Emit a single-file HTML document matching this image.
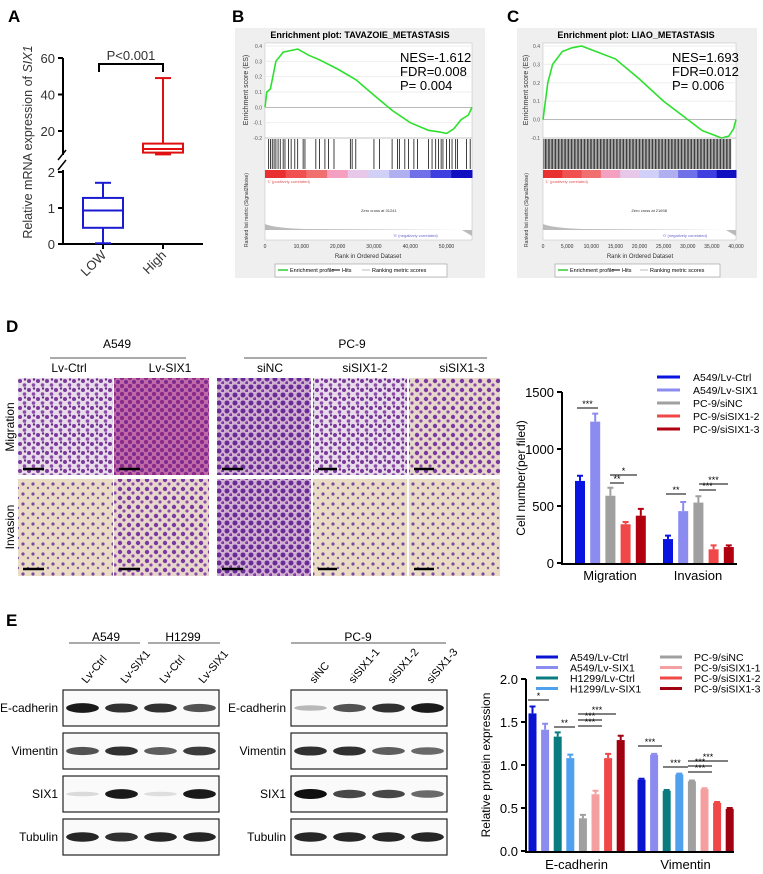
<!DOCTYPE html>
<html><head><meta charset="utf-8"><style>
body{margin:0;background:#fff;}
svg{display:block;font-family:"Liberation Sans",Arial,sans-serif;}
</style></head><body>
<svg id="fig" width="763" height="874" viewBox="0 0 763 874" xmlns="http://www.w3.org/2000/svg">
<defs>
<pattern id="cellsA" width="9" height="9" patternUnits="userSpaceOnUse"><rect width="9" height="9" fill="#e8dcea"/><circle cx="2" cy="3" r="2" fill="#7a3a9a"/><circle cx="6.5" cy="7" r="1.8" fill="#8a4aa8"/><circle cx="7" cy="1.5" r="1.2" fill="#6a2a88"/></pattern>
<pattern id="cellsB" width="8" height="8" patternUnits="userSpaceOnUse"><rect width="8" height="8" fill="#c06aa8"/><circle cx="2" cy="2" r="2.2" fill="#8a2a8a"/><circle cx="6" cy="6" r="2" fill="#7a2a90"/></pattern>
<pattern id="cellsC" width="9" height="9" patternUnits="userSpaceOnUse"><rect width="9" height="9" fill="#e8d8cc"/><circle cx="3" cy="3" r="2.2" fill="#7a3aa0"/><circle cx="7" cy="7" r="1.6" fill="#8a4aa8"/></pattern>
<pattern id="cellsD" width="10" height="10" patternUnits="userSpaceOnUse"><rect width="10" height="10" fill="#eadcc4"/><circle cx="3" cy="4" r="1.6" fill="#7a4aa0"/><circle cx="8" cy="8" r="1.2" fill="#8a5aa8"/></pattern>
<pattern id="cellsE" width="8" height="8" patternUnits="userSpaceOnUse"><rect width="8" height="8" fill="#cfb0d0"/><circle cx="3" cy="3" r="2.5" fill="#6a2a98"/><circle cx="7" cy="7" r="1.8" fill="#7a3aa0"/></pattern>
</defs>
<text x="8" y="22" font-size="17" font-weight="bold">A</text>
<text x="232" y="22" font-size="17" font-weight="bold">B</text>
<text x="507" y="22" font-size="17" font-weight="bold">C</text>
<text x="6" y="332" font-size="17" font-weight="bold">D</text>
<text x="6" y="626" font-size="17" font-weight="bold">E</text>

<g id="panelA">
<text transform="translate(32,142) rotate(-90)" font-size="12.5" text-anchor="middle" fill="#333">Relative mRNA expression of <tspan font-style="italic">SIX1</tspan></text>
<path d="M63,58 V155 M63,170 V244 H203" stroke="#000" stroke-width="2" fill="none"/>
<path d="M58,160 L66,150 M58,170 L66,160" stroke="#000" stroke-width="1.5"/>
</g>

<g>
<rect x="235" y="28" width="250" height="250" fill="#efefef"/>
<text x="360" y="38" font-size="9" font-weight="bold" text-anchor="middle">Enrichment plot: TAVAZOIE_METASTASIS</text>
<rect x="265" y="43" width="207" height="197" fill="#fff" stroke="#bbb" stroke-width="0.5"/>
<g id="gB"></g>
<text x="400" y="62" font-size="13">NES=-1.612</text>
<text x="400" y="76" font-size="13">FDR=0.008</text>
<text x="400" y="90" font-size="13">P= 0.004</text>
<text transform="translate(248,90) rotate(-90)" font-size="7" text-anchor="middle" fill="#333">Enrichment score (ES)</text>
<text transform="translate(248,210) rotate(-90)" font-size="5" text-anchor="middle" fill="#333">Ranked list metric (Signal2Noise)</text>
<text x="368" y="258" font-size="6" text-anchor="middle" fill="#333">Rank in Ordered Dataset</text>
<rect x="275" y="264" width="172" height="13" fill="#fff" stroke="#999" stroke-width="0.6"/>
<line x1="278" y1="270" x2="288" y2="270" stroke="#3c3" stroke-width="1.5"/><text x="290" y="272" font-size="5.5">Enrichment profile</text>
<line x1="332" y1="270" x2="340" y2="270" stroke="#000"/><text x="342" y="272" font-size="5.5">Hits</text>
<line x1="362" y1="270" x2="370" y2="270" stroke="#bbb"/><text x="372" y="272" font-size="5.5">Ranking metric scores</text>
</g>
<g>
<rect x="517" y="28" width="240" height="250" fill="#efefef"/>
<text x="636" y="38" font-size="9" font-weight="bold" text-anchor="middle">Enrichment plot: LIAO_METASTASIS</text>
<rect x="543" y="43" width="193" height="197" fill="#fff" stroke="#bbb" stroke-width="0.5"/>
<g id="gC"></g>
<text x="672" y="62" font-size="13">NES=1.693</text>
<text x="672" y="76" font-size="13">FDR=0.012</text>
<text x="672" y="90" font-size="13">P= 0.006</text>
<text transform="translate(528,90) rotate(-90)" font-size="7" text-anchor="middle" fill="#333">Enrichment score (ES)</text>
<text transform="translate(528,210) rotate(-90)" font-size="5" text-anchor="middle" fill="#333">Ranked list metric (Signal2Noise)</text>
<text x="640" y="258" font-size="6" text-anchor="middle" fill="#333">Rank in Ordered Dataset</text>
<rect x="555" y="264" width="165" height="13" fill="#fff" stroke="#999" stroke-width="0.6"/>
<line x1="558" y1="270" x2="568" y2="270" stroke="#3c3" stroke-width="1.5"/><text x="570" y="272" font-size="5.5">Enrichment profile</text>
<line x1="612" y1="270" x2="620" y2="270" stroke="#000"/><text x="622" y="272" font-size="5.5">Hits</text>
<line x1="640" y1="270" x2="648" y2="270" stroke="#bbb"/><text x="650" y="272" font-size="5.5">Ranking metric scores</text>
</g>

<g>
<text x="117" y="348" font-size="12" text-anchor="middle">A549</text>
<line x1="50" y1="358" x2="186" y2="358" stroke="#555"/>
<text x="69" y="372" font-size="12" text-anchor="middle">Lv-Ctrl</text>
<text x="170" y="372" font-size="12" text-anchor="middle">Lv-SIX1</text>
<text x="352" y="348" font-size="12" text-anchor="middle">PC-9</text>
<line x1="244" y1="358" x2="487" y2="358" stroke="#555"/>
<text x="270" y="372" font-size="12" text-anchor="middle">siNC</text>
<text x="365" y="372" font-size="12" text-anchor="middle">siSIX1-2</text>
<text x="462" y="372" font-size="12" text-anchor="middle">siSIX1-3</text>
<text transform="translate(14,427) rotate(-90)" font-size="12" text-anchor="middle">Migration</text>
<text transform="translate(14,527) rotate(-90)" font-size="12" text-anchor="middle">Invasion</text>
<rect x="18" y="378" width="95" height="97" fill="url(#cellsA)"/>
<rect x="114" y="378" width="95" height="97" fill="url(#cellsB)"/>
<rect x="217" y="378" width="94" height="97" fill="url(#cellsE)"/>
<rect x="313" y="378" width="94" height="97" fill="url(#cellsA)"/>
<rect x="409" y="378" width="91" height="97" fill="url(#cellsC)"/>
<rect x="18" y="479" width="95" height="97" fill="url(#cellsD)"/>
<rect x="114" y="479" width="95" height="97" fill="url(#cellsC)"/>
<rect x="217" y="479" width="94" height="97" fill="url(#cellsE)"/>
<rect x="313" y="479" width="94" height="97" fill="url(#cellsD)"/>
<rect x="409" y="479" width="91" height="97" fill="url(#cellsD)"/>
<g stroke="#000" stroke-width="2.5">
<line x1="23" y1="469" x2="44" y2="469"/><line x1="119" y1="469" x2="140" y2="469"/><line x1="222" y1="469" x2="243" y2="469"/><line x1="318" y1="469" x2="337" y2="469"/><line x1="414" y1="469" x2="434" y2="469"/>
<line x1="23" y1="569" x2="44" y2="569"/><line x1="119" y1="569" x2="140" y2="569"/><line x1="222" y1="569" x2="243" y2="569"/><line x1="318" y1="569" x2="337" y2="569"/><line x1="414" y1="569" x2="434" y2="569"/>
</g>
</g>

<g id="chartD">
<text transform="translate(525,478) rotate(-90)" font-size="12" text-anchor="middle">Cell number(per filed)</text>
</g>

<g id="blots">
<text x="106" y="641" font-size="12" text-anchor="middle">A549</text>
<line x1="69" y1="643" x2="140" y2="643" stroke="#555"/>
<text x="183" y="641" font-size="12" text-anchor="middle">H1299</text>
<line x1="148" y1="643" x2="220" y2="643" stroke="#555"/>
<text x="358" y="641" font-size="12" text-anchor="middle">PC-9</text>
<line x1="291" y1="643" x2="446" y2="643" stroke="#555"/>
</g>

<g id="chartE">
<text transform="translate(490,765) rotate(-90)" font-size="12" text-anchor="middle">Relative protein expression</text>
</g>
</svg>
<script>
var NS="http://www.w3.org/2000/svg";
function mk(p,tag,at,txt){var e=document.createElementNS(NS,tag);for(var k in at)e.setAttribute(k,at[k]);if(txt!==undefined)e.textContent=txt;p.appendChild(e);return e;}

var aGroups=["LOW","High"];
var aLowBox=[0.02,0.45,0.93,1.28,1.70];
var aHighBox=[7,8,10,13,49];
var aLowTicks=[0,1,2];
var aHighTicks=[20,40,60];
(function(){
 var g=document.getElementById("panelA");
 function yl(v){return 244-v/2*72;}
 function yh(v){return 131-(v-20)/40*73;}
 aLowTicks.forEach(function(t){mk(g,"line",{x1:58,x2:63,y1:yl(t),y2:yl(t),stroke:"#000","stroke-width":2});mk(g,"text",{x:55,y:yl(t)+5,"font-size":13,"text-anchor":"end",fill:"#333"},t);});
 aHighTicks.forEach(function(t){mk(g,"line",{x1:58,x2:63,y1:yh(t),y2:yh(t),stroke:"#000","stroke-width":2});mk(g,"text",{x:55,y:yh(t)+5,"font-size":13,"text-anchor":"end",fill:"#333"},t);});
 var xs=[103,163];
 xs.forEach(function(x,i){mk(g,"line",{x1:x,x2:x,y1:244,y2:249,stroke:"#000","stroke-width":2});
  var t=mk(g,"text",{transform:"translate("+(x+4)+",256) rotate(-45)","font-size":13,"text-anchor":"end",fill:"#333"},aGroups[i]);
  
  });
 function box(x,b,yf,c,name){var w=20;var gg=mk(g,"g",{stroke:c,"stroke-width":2,fill:"none"});
  
  
  mk(gg,"line",{x1:x,x2:x,y1:yf(b[0]),y2:yf(b[1])});mk(gg,"line",{x1:x,x2:x,y1:yf(b[3]),y2:yf(b[4])});
  mk(gg,"line",{x1:x-8,x2:x+8,y1:yf(b[0]),y2:yf(b[0])});mk(gg,"line",{x1:x-8,x2:x+8,y1:yf(b[4]),y2:yf(b[4])});
  mk(gg,"rect",{x:x-w,y:yf(b[3]),width:2*w,height:yf(b[1])-yf(b[3])});mk(gg,"line",{x1:x-w,x2:x+w,y1:yf(b[2]),y2:yf(b[2])});}
 box(103,aLowBox,yl,"#1a1ad0","box-low");
 box(163,aHighBox,function(v){return v<20?131+(20-v)*1.8:yh(v);},"#e01010","box-high");
 mk(g,"path",{d:"M99,72 V64 H163 V72",stroke:"#000","stroke-width":2,fill:"none"});
 mk(g,"text",{x:131,y:60,"font-size":13,"text-anchor":"middle",fill:"#333"},"P<0.001");
})();

var bRankMax=57000;
var bESx=[0,500,1500,3000,5000,7000,9000,12000,15000,20000,25000,30000,35000,40000,45000,48000,50000,52000,54000,56000,57000];
var bESy=[0,0.1,0.12,0.3,0.36,0.37,0.38,0.34,0.31,0.25,0.18,0.08,-0.02,-0.1,-0.15,-0.16,-0.17,-0.14,-0.08,-0.05,0.0];
var bHits=[1000,1500,2000,2500,3000,3600,4200,5000,5500,6500,7200,8200,9000,10500,11000,14000,15000,16500,17500,19000,23500,24000,25000,30000,31500,35000,36500,37000,38500,39500,41000,42000,45000,46000,47000,47800,48500,49000,50000,50800,51500,52500,53000,55500,56500];
var cRankMax=40000;
var cESx=[0,500,1000,2000,4000,6000,8000,10000,12000,15000,20000,25000,30000,33000,35000,37000,38500,39500,40000];
var cESy=[0,0.1,0.2,0.3,0.37,0.39,0.4,0.38,0.36,0.33,0.22,0.1,0.0,-0.06,-0.08,-0.1,-0.09,-0.05,0.0];
var cHitStep=300;
function gsea(id,x0,x1,maxR,esx,esy,yMin,yMax,ticks,hits,xt,zero){
 var g=document.getElementById(id);
 function X(r){return x0+r/maxR*(x1-x0);}
 function Y(v){return 138-(v-yMin)/(yMax-yMin)*92;}
 ticks.forEach(function(t){mk(g,"line",{x1:x0,x2:x1,y1:Y(t),y2:Y(t),stroke:"#eee"});mk(g,"text",{x:x0-3,y:Y(t)+2,"font-size":5,"text-anchor":"end",fill:"#555"},t.toFixed(1));});
 mk(g,"line",{x1:x0,x2:x1,y1:Y(0),y2:Y(0),stroke:"#999","stroke-width":0.6});
 var d="";esx.forEach(function(r,i){d+=(i?"L":"M")+X(r).toFixed(1)+","+Y(esy[i]).toFixed(1);});
 var p=mk(g,"path",{d:d,stroke:"#2ee02e","stroke-width":1.6,fill:"none"});
 
 
 mk(g,"line",{x1:x0,x2:x1,y1:138,y2:138,stroke:"#999","stroke-width":0.5});
 hits.forEach(function(r){mk(g,"line",{x1:X(r),x2:X(r),y1:139,y2:169,stroke:"#111","stroke-width":0.8});});
 var cols=["#e83030","#f05050","#f07070","#f4a0c0","#e8c8e8","#d0d0f8","#b0b0f0","#7070e8","#4040e0","#1010c0"];
 cols.forEach(function(c,i){mk(g,"rect",{x:x0+i*(x1-x0)/10,y:170,width:(x1-x0)/10+0.5,height:8,fill:c});});
 mk(g,"text",{x:x0+2,y:183,"font-size":4,fill:"#e05050"},"'1' (positively correlated)");
 mk(g,"text",{x:x0+(x1-x0)*0.55,y:212,"font-size":4,fill:"#333","text-anchor":"middle"},"Zero cross at "+zero);
 mk(g,"text",{x:x0+(x1-x0)*0.62,y:237,"font-size":4,fill:"#66c"},"'0' (negatively correlated)");
 mk(g,"path",{d:"M"+x0+",224 Q"+(x0+10)+",228 "+(x0+40)+",229 L"+(x1-10)+",230 L"+x1+",236 L"+x1+",230 L"+x0+",230Z",fill:"#bbb"});
 xt.forEach(function(t){mk(g,"text",{x:X(t),y:248,"font-size":5,"text-anchor":"middle",fill:"#333"},t.toLocaleString("en-US"));});
}
gsea("gB",265,472,bRankMax,bESx,bESy,-0.2,0.4,[-0.2,-0.1,0,0.1,0.2,0.3,0.4],bHits,[0,10000,20000,30000,40000,50000],"31241");
var cHits=[];for(var r=200;r<39000;r+=cHitStep)cHits.push(r);
gsea("gC",543,736,cRankMax,cESx,cESy,-0.1,0.4,[-0.1,0,0.1,0.2,0.3,0.4],cHits,[0,5000,10000,15000,20000,25000,30000,35000,40000],"21698");

var dCategories=["Migration","Invasion"];
var dSeries=["A549/Lv-Ctrl","A549/Lv-SIX1","PC-9/siNC","PC-9/siSIX1-2","PC-9/siSIX1-3"];
var dColors=["#0a14e0","#8c8cf0","#a0a0a0","#f04848","#b00010"];
var dMigration=[720,1240,590,340,415];
var dMigrationErr=[45,70,70,20,60];
var dInvasion=[210,455,530,120,140];
var dInvasionErr=[30,80,55,35,15];
var dTicks=[0,500,1000,1500];
(function(){
 var g=document.getElementById("chartD");
 function Y(v){return 563-v/1500*171;}
 mk(g,"path",{d:"M562,392 V564 H737",stroke:"#000","stroke-width":2,fill:"none"});
 dTicks.forEach(function(t){mk(g,"line",{x1:557,x2:562,y1:Y(t),y2:Y(t),stroke:"#000","stroke-width":2});mk(g,"text",{x:554,y:Y(t)+5,"font-size":13,"text-anchor":"end"},t);});
 var data=[dMigration,dInvasion],errs=[dMigrationErr,dInvasionErr],starts=[580,668];
 data.forEach(function(arr,gi){arr.forEach(function(v,i){var cx=starts[gi]+i*15.2;
  var b=mk(g,"rect",{x:cx-5,y:Y(v),width:10,height:563-Y(v),fill:dColors[i]});
  
  
  var e=errs[gi][i];mk(g,"path",{d:"M"+cx+","+Y(v)+" V"+Y(v+e)+" M"+(cx-3)+","+Y(v+e)+" H"+(cx+3),stroke:dColors[i],"stroke-width":2});});
  mk(g,"text",{x:starts[gi]+30,y:580,"font-size":13,"text-anchor":"middle"},dCategories[gi]);});
 function sig(x1,x2,y,s){mk(g,"line",{x1:x1,x2:x2,y1:y,y2:y,stroke:"#000"});mk(g,"text",{x:(x1+x2)/2,y:y-1,"font-size":9,"text-anchor":"middle"},s);}
 sig(577,598,408,"***");sig(610,637,475,"*");sig(610,624,483,"**");sig(666,686,494,"**");sig(699,728,484,"***");sig(699,716,490,"***");
 dSeries.forEach(function(s,i){var y=377+i*13;mk(g,"line",{x1:657,x2:680,y1:y,y2:y,stroke:dColors[i],"stroke-width":3});
  var t=mk(g,"text",{x:693,y:y+4,"font-size":10.5},s);
  
  });
})();

var blotRows=["E-cadherin","Vimentin","SIX1","Tubulin"];
var leftLanes=["Lv-Ctrl","Lv-SIX1","Lv-Ctrl","Lv-SIX1"];
var rightLanes=["siNC","siSIX1-1","siSIX1-2","siSIX1-3"];
var leftIntensity=[[0.95,0.85,0.85,0.7],[0.7,0.85,0.65,0.8],[0.1,0.95,0.08,0.95],[0.9,0.85,0.9,0.9]];
var rightIntensity=[[0.25,0.7,0.85,0.95],[0.85,0.85,0.65,0.6],[1,0.75,0.75,0.6],[0.9,0.9,0.9,0.9]];
(function(){
 var g=document.getElementById("blots");var rowsY=[690,733,776,819];
 function blot(x0,x1,lanes,ints,side){
  var lw=(x1-x0)/4;
  lanes.forEach(function(l,i){var cx=x0+lw*(i+0.5);mk(g,"text",{transform:"translate("+(cx+4)+",684) rotate(-50)","font-size":11},l);});
  rowsY.forEach(function(y,r){var rr=mk(g,"rect",{x:x0,y:y,width:x1-x0,height:36,fill:"#fafafa",stroke:"#222","stroke-width":1.2});
   
   
   mk(g,"text",{x:x0-5,y:y+22,"font-size":12,"text-anchor":"end"},blotRows[r]);
   ints[r].forEach(function(v,i){var cx=x0+lw*(i+0.5);var gray=Math.round(240-v*225);
    mk(g,"ellipse",{cx:cx,cy:y+18,rx:lw*0.42,ry:2+v*3,fill:"rgb("+gray+","+gray+","+gray+")"});});});
 }
 blot(63,219,leftLanes,leftIntensity,"left");
 blot(291,447,rightLanes,rightIntensity,"right");
})();

var eCategories=["E-cadherin","Vimentin"];
var eSeries=["A549/Lv-Ctrl","A549/Lv-SIX1","H1299/Lv-Ctrl","H1299/Lv-SIX1","PC-9/siNC","PC-9/siSIX1-1","PC-9/siSIX1-2","PC-9/siSIX1-3"];
var eColors=["#0a14d0","#8c8cf0","#0a7c80","#50a0f0","#a0a0a0","#f4a0a0","#f04848","#a00010"];
var eEcad=[1.60,1.41,1.33,1.08,0.38,0.66,1.08,1.29];
var eEcadErr=[0.08,0.07,0.05,0.04,0.04,0.04,0.05,0.05];
var eVim=[0.83,1.12,0.70,0.89,0.81,0.72,0.56,0.49];
var eVimErr=[0.01,0.01,0.01,0.01,0.01,0.01,0.01,0.01];
var eTicks=[0,0.5,1.0,1.5,2.0];
(function(){
 var g=document.getElementById("chartE");
 function Y(v){return 851-v/2*172;}
 mk(g,"path",{d:"M526,679 V852 H734",stroke:"#000","stroke-width":2,fill:"none"});
 eTicks.forEach(function(t){mk(g,"line",{x1:521,x2:526,y1:Y(t),y2:Y(t),stroke:"#000","stroke-width":2});mk(g,"text",{x:518,y:Y(t)+5,"font-size":13,"text-anchor":"end"},t.toFixed(1));});
 var data=[eEcad,eVim],errs=[eEcadErr,eVimErr],starts=[532.5,641.5];
 data.forEach(function(arr,gi){arr.forEach(function(v,i){var cx=starts[gi]+i*12.6;
  var b=mk(g,"rect",{x:cx-4,y:Y(v),width:8,height:851-Y(v),fill:eColors[i]});
  
  
  var e=errs[gi][i];mk(g,"path",{d:"M"+cx+","+Y(v)+" V"+Y(v+e)+" M"+(cx-3)+","+Y(v+e)+" H"+(cx+3),stroke:eColors[i],"stroke-width":2});});
  mk(g,"text",{x:starts[gi]+44,y:869,"font-size":13,"text-anchor":"middle"},eCategories[gi]);});
 function sig(x1,x2,y,s){mk(g,"line",{x1:x1,x2:x2,y1:y,y2:y,stroke:"#000"});mk(g,"text",{x:(x1+x2)/2,y:y-1,"font-size":9,"text-anchor":"middle"},s);}
 sig(528,549,700,"*");sig(554,575,727,"**");sig(578,616,714,"***");sig(578,602,720,"***");sig(578,602,726,"***");
 sig(638,662,746,"***");sig(663,688,767,"***");sig(688,728,761,"***");sig(688,712,766,"***");sig(688,712,772,"***");
 eSeries.forEach(function(s,i){var col=i<4?0:1;var y=657+(i%4)*10.5;var lx=col?660:536;
  mk(g,"line",{x1:lx,x2:lx+22,y1:y,y2:y,stroke:eColors[i],"stroke-width":3});
  var t=mk(g,"text",{x:lx+34,y:y+4,"font-size":10.5},s);
  
  });
})();
</script>
</body></html>
